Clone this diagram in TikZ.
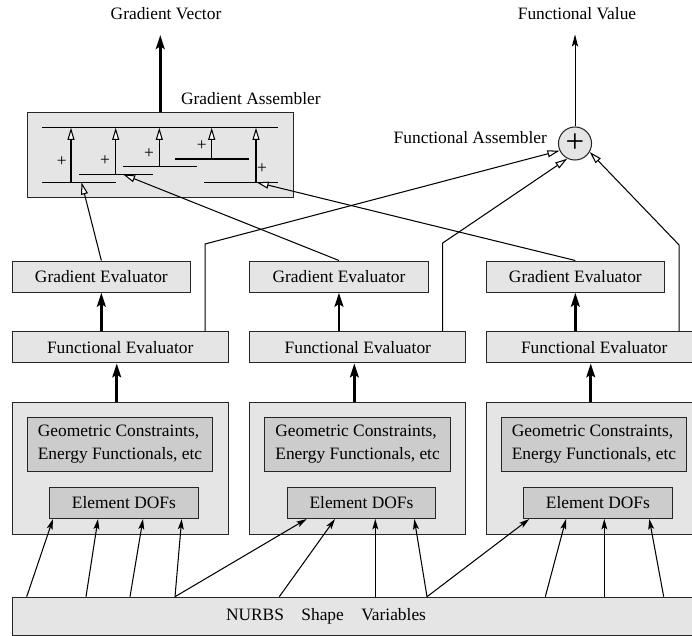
\documentclass[tikz,border=0pt]{standalone}
\usepackage{fontspec}
\setmainfont{Liberation Serif}
\usetikzlibrary{arrows.meta}

\tikzset{
  panel/.style={draw=black!85, fill=gray!20, line width=0.6pt, inner sep=0pt, anchor=north west},
  darkpanel/.style={panel, fill=gray!40},
  evalbox/.style={panel, minimum width=102.5pt, minimum height=17.9pt},
  funcbox/.style={panel, minimum width=124.2pt, minimum height=18pt},
  elembox/.style={panel, minimum width=124.2pt, minimum height=76.1pt},
  geobox/.style={darkpanel, minimum width=106.7pt, minimum height=31.2pt, align=left, font=\fontsize{10pt}{13pt}\selectfont},
  dofbox/.style={darkpanel, minimum width=85.5pt, minimum height=17.8pt},
  bigarr/.style={line width=1.6pt, -{Stealth[length=8pt, width=5pt, inset=1.5pt]}},
  thinarr/.style={line width=0.5pt, -{Stealth[length=7pt, width=3.6pt, inset=1.5pt]}},
  dofarr/.style={line width=0.6pt, -{Stealth[length=6pt, width=3.4pt, inset=1.3pt]}},
  openarr/.style={line width=0.6pt, -{Triangle[fill=white, length=7pt, width=4pt]}},
  bus/.style={line width=0.75pt}
}

\begin{document}
\begin{tikzpicture}[x=0.575pt,y=-0.575pt]
\useasboundingbox (0,0) rectangle (692,636);
\clip (0,0) rectangle (692,636);

\node (gradvec) at (166,14) {Gradient Vector};
\node (funcval) at (577,14) {Functional Value};

\node[panel, minimum width=153pt, minimum height=49.2pt] (gasm) at (26.7,111.7) {};
\node[anchor=west] (gasmlabel) at (175,99) {Gradient Assembler};
\node[circle, draw=black!85, fill=gray!20, line width=0.6pt, minimum size=19pt, inner sep=0pt] (sum) at (575,143.5) {\fontsize{19pt}{19pt}\selectfont +};
\node[anchor=east] (sumlabel) at (553,138) {Functional Assembler};

\draw[bigarr] (gasm.north) -- ++(0,-76.7);
\draw[thinarr] (sum.north) -- ++(0,-92);

\draw[bus] (41.7,127.7) -- (278,127.7);
\foreach \x/\y/\l/\r in {71/182.3/41.7/116, 115.7/174.3/79/152.7, 159.3/166.7/123.3/196.7, 211.7/159/175/249, 256/182.3/204.3/278.3} {
  \draw[bus] (\l,\y) -- (\r,\y);
  \draw[openarr] (\x,\y) -- (\x,127.7);
}
\node (p1) at (61.7,161.7) {+};
\node (p2) at (105,161) {+};
\node (p3) at (149,154) {+};
\node (p4) at (201.7,145.7) {+};
\node (p5) at (262,169) {+};
\coordinate (g1in) at (81.5,182.3);
\coordinate (g2in) at (123,174.3);
\coordinate (g3in) at (256.5,182.3);

\node[evalbox] (ge1) at (11.7,260.5) {Gradient Evaluator};
\node[evalbox] (ge2) at (249.3,260.5) {Gradient Evaluator};
\node[evalbox] (ge3) at (485.7,260.5) {Gradient Evaluator};

\node[funcbox] (fe1) at (11.7,331) {Functional Evaluator};
\node[funcbox] (fe2) at (249.3,331) {Functional Evaluator};
\node[funcbox] (fe3) at (485.7,331) {Functional Evaluator};

\node[elembox] (elem1) at (11.7,401.7) {};
\node[elembox] (elem2) at (249.3,401.7) {};
\node[elembox] (elem3) at (485.7,401.7) {};
\node[geobox] (geo1) at (26.7,416.7) {Geometric Constraints,\\Energy Functionals, etc};
\node[geobox] (geo2) at (264.3,416.7) {Geometric Constraints,\\Energy Functionals, etc};
\node[geobox] (geo3) at (500.7,416.7) {Geometric Constraints,\\Energy Functionals, etc};
\node[dofbox] (dof1) at (49,487) {Element DOFs\hspace{8pt}};
\node[dofbox] (dof2) at (286.6,487) {Element DOFs\hspace{8pt}};
\node[dofbox] (dof3) at (523,487) {Element DOFs\hspace{8pt}};

\node[panel, minimum width=410pt, minimum height=21.9pt] (nurbs) at (11.7,596.7) {};
\node (nurbstext) at (326,616) {NURBS\quad Shape\quad Variables};

\draw[bigarr] (fe1.north -| ge1.north) -- (ge1.south);
\draw[bigarr] (fe2.north -| ge2.north) -- (ge2.south);
\draw[bigarr] (fe3.north -| ge3.north) -- (ge3.south);
\draw[bigarr] ([xshift=-2pt]elem1.north) -- ([xshift=-2pt]fe1.south);
\draw[bigarr] ([xshift=-2pt]elem2.north) -- ([xshift=-2pt]fe2.south);
\draw[bigarr] ([xshift=-2pt]elem3.north) -- ([xshift=-2pt]fe3.south);

\draw[openarr] (ge1.north) -- (g1in);
\draw[openarr] (ge2.north) -- (g2in);
\draw[openarr] (ge3.north) -- (g3in);

\draw[openarr] ([xshift=-13.6pt]fe1.north east) -- ++(0,-87) -- (sum.205);
\draw[openarr] ([xshift=-13.6pt]fe2.north east) -- ++(0,-88) -- (sum.243);
\draw[openarr] ([xshift=-13.6pt]fe3.north east) -- ++(0,-86) -- (sum.330);

\foreach \a/\b/\d in {26.7/53/dof1, 86/98/dof1, 130/143/dof1, 175/181.7/dof1, 175/306.7/dof2, 279.3/335/dof2, 375.3/375.3/dof2, 427/414.3/dof2, 427/529.3/dof3, 545.3/566/dof3, 604.3/604.3/dof3, 663.7/649.3/dof3}
  \draw[dofarr] (nurbs.north -| \a,0) -- (\d.south -| \b,0);
\end{tikzpicture}
\end{document}
